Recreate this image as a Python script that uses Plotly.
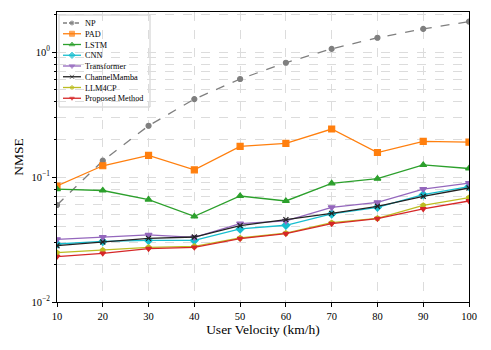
import plotly.graph_objects as go

velocity = [10, 20, 30, 40, 50, 60, 70, 80, 90, 100]
np_vals = [0.0597, 0.135, 0.257, 0.42, 0.608, 0.82, 1.06, 1.30, 1.53, 1.75]
pad_vals = [0.0847, 0.123, 0.149, 0.114, 0.176, 0.186, 0.242, 0.157, 0.193, 0.19]
lstm_vals = [0.080, 0.078, 0.066, 0.0484, 0.0705, 0.0643, 0.089, 0.097, 0.125, 0.117]
cnn_vals = [0.0291, 0.0305, 0.0311, 0.0311, 0.0384, 0.0411, 0.0506, 0.0572, 0.0722, 0.0838]
transformer_vals = [0.0317, 0.0331, 0.0344, 0.0329, 0.0423, 0.0445, 0.0572, 0.0627, 0.080, 0.0895]
mamba_vals = [0.0282, 0.0302, 0.0323, 0.0331, 0.0408, 0.0456, 0.0512, 0.0583, 0.070, 0.0817]
llm4cp_vals = [0.0248, 0.0259, 0.0274, 0.0279, 0.0325, 0.0355, 0.0431, 0.0467, 0.0593, 0.0684]
proposed_vals = [0.0231, 0.0245, 0.0267, 0.0274, 0.0321, 0.0352, 0.0423, 0.0464, 0.0555, 0.0643]

ytick_vals = [0.01, 0.1, 1]
ytick_text = ["10<sup>−2</sup>", "10<sup>−1</sup>", "10<sup>0</sup>"]
yminor_vals = [m * d for d in (0.01, 0.1, 1) for m in range(2, 10) if m * d < 2.1]

series = [
    ("NP", np_vals, "#7f7f7f", "circle", "dash", 5),
    ("PAD", pad_vals, "#ff7f0e", "square", "solid", 6),
    ("LSTM", lstm_vals, "#2ca02c", "triangle-up", "solid", 6),
    ("CNN", cnn_vals, "#17becf", "diamond", "solid", 6),
    ("Transformer", transformer_vals, "#9467bd", "triangle-down", "solid", 6),
    ("ChannelMamba", mamba_vals, "#222222", "x-thin-open", "solid", 5),
    ("LLM4CP", llm4cp_vals, "#bcbd22", "pentagon", "solid", 5),
    ("Proposed Method", proposed_vals, "#d62728", "triangle-down", "solid", 5),
]

W, H = 491, 350
L, R, T, B = 57, 22, 12, 48
PW, PH = W - L - R, H - T - B


def fx(px):
    return (px - L) / PW


def fy(py):
    return (H - B - py) / PH


fig = go.Figure()
for name, vals, color, sym, dash, size in series:
    fig.add_trace(go.Scatter(
        x=velocity, y=vals, name=name, mode="lines+markers", showlegend=False,
        line=dict(color=color, width=1.3, dash=dash),
        marker=dict(symbol=sym, size=size, color=color,
                    line=dict(color=color, width=1.2)),
    ))

font_family = "Liberation Serif, Times New Roman, serif"

# compact matplotlib-style legend
leg_top, leg_step = 23, 10.75
n = len(series)
shapes = [dict(type="rect", xref="paper", yref="paper", layer="between",
               x0=fx(59), x1=fx(150), y0=fy(107), y1=fy(15),
               fillcolor="white", line=dict(color="#cccccc", width=1))]
for i, (name, vals, color, sym, dash, size) in enumerate(series):
    py = leg_top + i * leg_step
    fig.add_trace(go.Scatter(
        x=[fx(63), fx(72), fx(81)], y=[fy(py)] * 3, xaxis="x2", yaxis="y2",
        mode="lines+markers", showlegend=False, hoverinfo="skip",
        line=dict(color=color, width=1.3, dash="4px,2px" if dash == "dash" else "solid"),
        marker=dict(symbol=sym, size=[0, size - 1, 0], color=color,
                    line=dict(color=color, width=1)),
    ))
legend_text = "<br>".join(s[0] for s in series)
annotations = [dict(xref="paper", yref="paper", x=fx(84),
                    y=fy(leg_top + (n - 1) * leg_step / 2),
                    xanchor="left", yanchor="middle", align="left", showarrow=False,
                    borderpad=0, text=legend_text,
                    font=dict(size=leg_step / 1.3, family=font_family))]

grid_col = "#dcdcdc"
fig.update_layout(
    width=W, height=H,
    margin=dict(l=L, r=R, t=T, b=B),
    paper_bgcolor="white", plot_bgcolor="white",
    font=dict(family=font_family, size=10, color="black"),
    showlegend=False, shapes=shapes, annotations=annotations,
    xaxis2=dict(overlaying="x", range=[0, 1], visible=False, fixedrange=True),
    yaxis2=dict(overlaying="y", range=[0, 1], visible=False, fixedrange=True),
)
fig.update_layout(xaxis=dict(
    range=[10, 100], tickvals=velocity, showline=True, linecolor="black", linewidth=1,
    mirror=True, ticks="outside", ticklen=4, tickcolor="black", automargin=False,
    showgrid=True, gridcolor=grid_col, griddash="dash", gridwidth=1,
    title=dict(text="User Velocity (km/h)", font=dict(size=13.5), standoff=1),
    tickfont=dict(size=10.5), zeroline=False,
))
fig.update_layout(yaxis=dict(
    type="log", range=[-2, 0.32], tickvals=ytick_vals, ticktext=ytick_text,
    showline=True, linecolor="black", linewidth=1, mirror=True, automargin=False,
    ticks="outside", ticklen=4, tickcolor="black",
    showgrid=True, gridcolor=grid_col, griddash="dash", gridwidth=1,
    minor=dict(tickvals=yminor_vals, ticks="outside", ticklen=2, tickcolor="black",
               showgrid=True, gridcolor=grid_col, griddash="dash", gridwidth=1),
    title=dict(text="NMSE", font=dict(size=13.5), standoff=4),
    tickfont=dict(size=10.5), zeroline=False,
))
fig.write_html("out.html", config={"displayModeBar": False},
               post_script="document.body.style.margin='0';document.body.style.padding='0';")
